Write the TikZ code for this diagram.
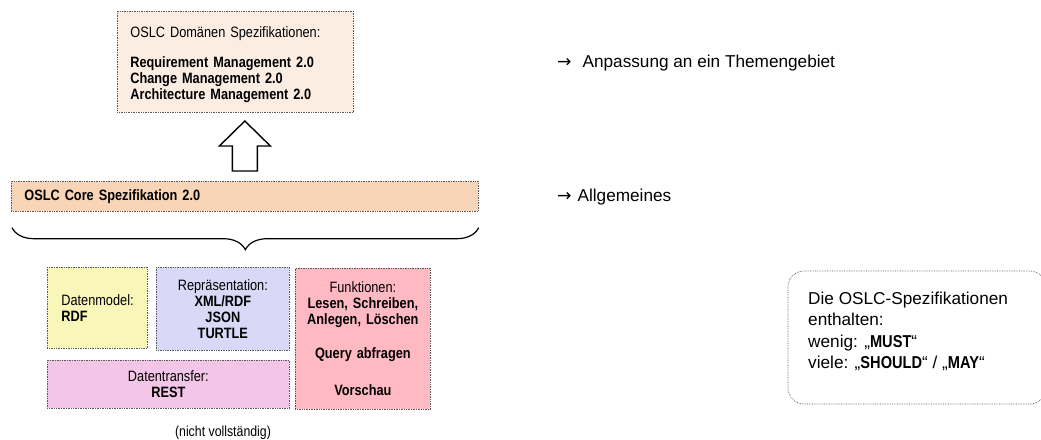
\documentclass[tikz,border=0pt]{standalone}
\usepackage{fontspec}
\setmainfont{Liberation Sans}
\newfontfamily\narrowfont[FakeStretch=0.85]{Liberation Sans}
\newfontfamily\arrowfont{DejaVu Sans}
\usepackage{tikz}
\usetikzlibrary{decorations.pathreplacing}
\usetikzlibrary{calc}

\definecolor{domfill}{HTML}{FCEDE3}
\definecolor{corefill}{HTML}{F8D5B7}
\definecolor{modelfill}{HTML}{F9F6BA}
\definecolor{reprfill}{HTML}{D9D9F7}
\definecolor{transfill}{HTML}{F3C5E7}
\definecolor{funcfill}{HTML}{FEB9C3}

\tikzset{
  specbox/.style={draw=black!65, densely dotted, line width=0.7pt, inner sep=0pt,
    anchor=north west, font=\narrowfont\fontsize{15}{16}\selectfont},
  plaintext/.style={inner sep=0pt, font=\fontsize{17.2}{20.6}\selectfont},
  blockarrow/.style={draw=black, line width=1.4pt, fill=white, line join=miter},
}

\begin{document}
\begin{tikzpicture}[x=1pt,y=-1pt]
\useasboundingbox (0,0) rectangle (1041,439);

% Domaenen und Core
\node[specbox, fill=domfill, minimum width=236pt, minimum height=101pt,
  text width=210pt, align=left] (domaenen) at (117,11)
  {\rule{0pt}{17pt}OSLC Domänen Spezifikationen:\\[14pt]
   \textbf{Requirement Management 2.0}\\
   \textbf{Change Management 2.0}\\
   \textbf{Architecture Management 2.0}};
\node[specbox, fill=corefill, minimum width=467pt, minimum height=30pt,
  text width=441pt, align=left] (core) at (11,181)
  {\textbf{OSLC Core Spezifikation 2.0}};

\draw[blockarrow] ($(core.north)+(-12.5,-10)$) -- ++(0,-25) -- ++(-13,0)
  -- ++(25.5,-25) -- ++(25.5,25) -- ++(-13,0) -- ++(0,25) -- cycle;

\draw[line width=1.2pt, decorate, decoration={brace, mirror, amplitude=22pt}]
  ([xshift=1pt,yshift=-16pt]core.south west) -- ([yshift=-16pt]core.south east);

% Bausteine
\node[specbox, fill=modelfill, minimum width=100pt, minimum height=81pt,
  text width=72pt, align=left] (model) at (47,267)
  {Datenmodel:\\ \textbf{RDF}};
\node[specbox, fill=reprfill, minimum width=133pt, minimum height=83pt,
  text width=133pt, align=center] (repr) at (156,267)
  {Repräsentation:\\ \textbf{XML/RDF}\\ \textbf{JSON}\\ \textbf{TURTLE}};
\node[specbox, fill=transfill, minimum width=242pt, minimum height=48pt,
  text width=242pt, align=center] (transfer) at (47,360)
  {Datentransfer:\\ \textbf{REST}};
\node[specbox, fill=funcfill, minimum width=135pt, minimum height=141pt,
  text width=135pt, align=center] (funktionen) at (295,268)
  {Funktionen:\\ \textbf{Lesen, Schreiben,}\\ \textbf{Anlegen, Löschen}\\[18pt]
   \textbf{Query abfragen}\\[21pt] \textbf{Vorschau}};
\node[inner sep=0pt, font=\narrowfont\fontsize{14.5}{16}\selectfont] (hinweis)
  at (223,433) {(nicht vollständig)};

% rechte Seite
\node[plaintext, anchor=west] (anpassung) at (557,63)
  {{\arrowfont →}\hspace{11pt}Anpassung an ein Themengebiet};
\node[plaintext, anchor=west] (allgemein) at (557,197)
  {{\arrowfont →}\hspace{6pt}Allgemeines};

\draw[draw=black!65, densely dotted, line width=0.7pt, rounded corners=16pt]
  (788,271) rectangle (1046,404);
\node[plaintext, anchor=north west, align=left] (notiz) at (808,291.5)
  {Die OSLC-Spezifikationen\\[1pt]
   enthalten:\\[1pt]
   wenig: „{\narrowfont\bfseries MUST}“\\[1pt]
   viele: „{\narrowfont\bfseries SHOULD}“ / „{\narrowfont\bfseries MAY}“};
\end{tikzpicture}
\end{document}
